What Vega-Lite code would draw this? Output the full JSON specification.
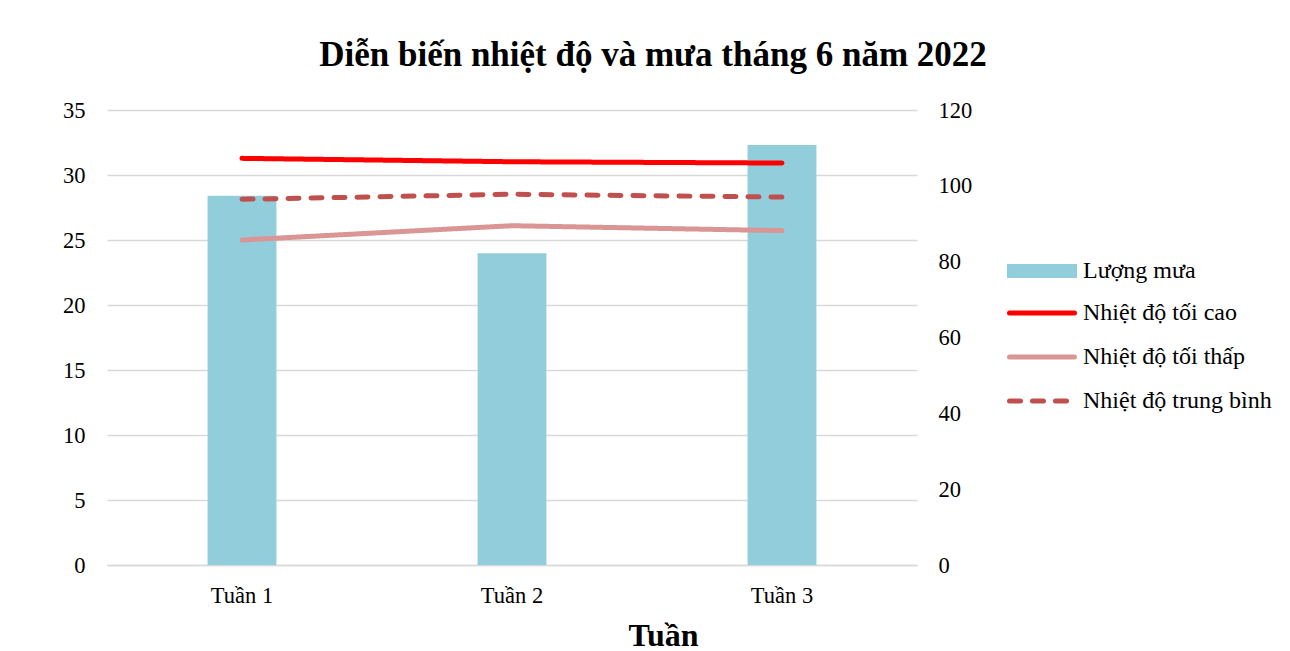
{
  "$schema": "https://vega.github.io/schema/vega-lite/v6.json",
  "autosize": {"type": "none"},
  "padding": {"left": 107, "top": 110, "right": 373, "bottom": 86},
  "width": 810,
  "height": 455,
  "background": "white",
  "datasets": {
    "rain": [
      {"tuan": "Tuần 1", "series": "Lượng mưa", "value": 97.4},
      {"tuan": "Tuần 2", "series": "Lượng mưa", "value": 82.2},
      {"tuan": "Tuần 3", "series": "Lượng mưa", "value": 110.8}
    ],
    "temp": [
      {"tuan": "Tuần 1", "series": "Nhiệt độ tối cao", "value": 31.28},
      {"tuan": "Tuần 2", "series": "Nhiệt độ tối cao", "value": 31.02},
      {"tuan": "Tuần 3", "series": "Nhiệt độ tối cao", "value": 30.92},
      {"tuan": "Tuần 1", "series": "Nhiệt độ tối thấp", "value": 25.0},
      {"tuan": "Tuần 2", "series": "Nhiệt độ tối thấp", "value": 26.1},
      {"tuan": "Tuần 3", "series": "Nhiệt độ tối thấp", "value": 25.72},
      {"tuan": "Tuần 1", "series": "Nhiệt độ trung bình", "value": 28.13},
      {"tuan": "Tuần 2", "series": "Nhiệt độ trung bình", "value": 28.52},
      {"tuan": "Tuần 3", "series": "Nhiệt độ trung bình", "value": 28.3}
    ]
  },
  "title": {
    "text": "Diễn biến nhiệt độ và mưa tháng 6 năm 2022",
    "font": "Liberation Serif",
    "fontSize": 35,
    "fontWeight": "bold",
    "color": "black",
    "anchor": "middle",
    "frame": "group",
    "dx": 141,
    "offset": 26
  },
  "config": {
    "font": "Liberation Serif",
    "view": {"stroke": null},
    "legend": {
      "padding": 0,
      "labelFont": "Liberation Serif",
      "labelFontSize": 24,
      "labelColor": "black",
      "labelLimit": 0,
      "clipHeight": 22,
      "rowPadding": 20,
      "labelOffset": 6
    }
  },
  "encoding": {
    "x": {
      "field": "tuan",
      "type": "nominal",
      "sort": ["Tuần 1", "Tuần 2", "Tuần 3"],
      "scale": {"paddingInner": 0, "paddingOuter": 0},
      "title": "Tuần",
      "axis": {
        "labelAngle": 0,
        "labelFont": "Liberation Serif",
        "labelFontSize": 22.5,
        "labelColor": "black",
        "labelPadding": 19,
        "ticks": false,
        "domainColor": "#d9d9d9",
        "domainWidth": 1.5,
        "titleFont": "Liberation Serif",
        "titleFontSize": 32,
        "titleFontWeight": "bold",
        "titleColor": "black",
        "titleX": 556,
        "titleY": 80,
        "titleBaseline": "alphabetic"
      }
    }
  },
  "layer": [
    {
      "data": {"name": "rain"},
      "mark": {"type": "bar", "width": {"band": 0.255}},
      "encoding": {
        "y": {
          "field": "value",
          "type": "quantitative",
          "scale": {"domain": [0, 120], "nice": false},
          "axis": {
            "orient": "right",
            "title": null,
            "values": [0, 20, 40, 60, 80, 100, 120],
            "grid": false,
            "domain": false,
            "ticks": false,
            "labelFont": "Liberation Serif",
            "labelFontSize": 22.5,
            "labelColor": "black",
            "labelPadding": 21
          }
        },
        "fill": {
          "field": "series",
          "type": "nominal",
          "scale": {"domain": ["Lượng mưa"], "range": ["#92CDDC"]},
          "legend": {
            "orient": "none",
            "legendX": 900,
            "legendY": 150,
            "title": null,
            "symbolType": "M-1,-0.2H1V0.2H-1Z",
            "symbolSize": 4900,
            "symbolStrokeWidth": 0,
            "symbolOpacity": 1
          }
        }
      }
    },
    {
      "data": {"name": "temp"},
      "mark": {"type": "line", "strokeWidth": 5, "strokeCap": "round"},
      "encoding": {
        "y": {
          "field": "value",
          "type": "quantitative",
          "scale": {"domain": [0, 35], "nice": false},
          "axis": {
            "orient": "left",
            "title": null,
            "values": [0, 5, 10, 15, 20, 25, 30, 35],
            "grid": true,
            "gridColor": "#d9d9d9",
            "gridWidth": 1.5,
            "domain": false,
            "ticks": false,
            "labelFont": "Liberation Serif",
            "labelFontSize": 22.5,
            "labelColor": "black",
            "labelPadding": 22
          }
        },
        "stroke": {
          "field": "series",
          "type": "nominal",
          "scale": {
            "domain": ["Nhiệt độ tối cao", "Nhiệt độ tối thấp", "Nhiệt độ trung bình"],
            "range": ["#FF0000", "#DA9694", "#C0504D"]
          },
          "legend": {
            "orient": "none",
            "legendX": 900,
            "legendY": 192,
            "title": null,
            "symbolType": "stroke",
            "symbolSize": 4225,
            "symbolStrokeWidth": 5,
            "encode": {"symbols": {"update": {"strokeCap": {"value": "round"}}}}
          }
        },
        "strokeDash": {
          "field": "series",
          "type": "nominal",
          "scale": {
            "domain": ["Nhiệt độ tối cao", "Nhiệt độ tối thấp", "Nhiệt độ trung bình"],
            "range": [[1, 0], [1, 0], [11, 12]]
          },
          "legend": {
            "orient": "none",
            "legendX": 900,
            "legendY": 192,
            "title": null,
            "symbolType": "stroke",
            "symbolSize": 4225,
            "symbolStrokeWidth": 5,
            "encode": {"symbols": {"update": {"strokeCap": {"value": "round"}}}}
          }
        }
      }
    }
  ],
  "resolve": {"scale": {"y": "independent"}}
}
